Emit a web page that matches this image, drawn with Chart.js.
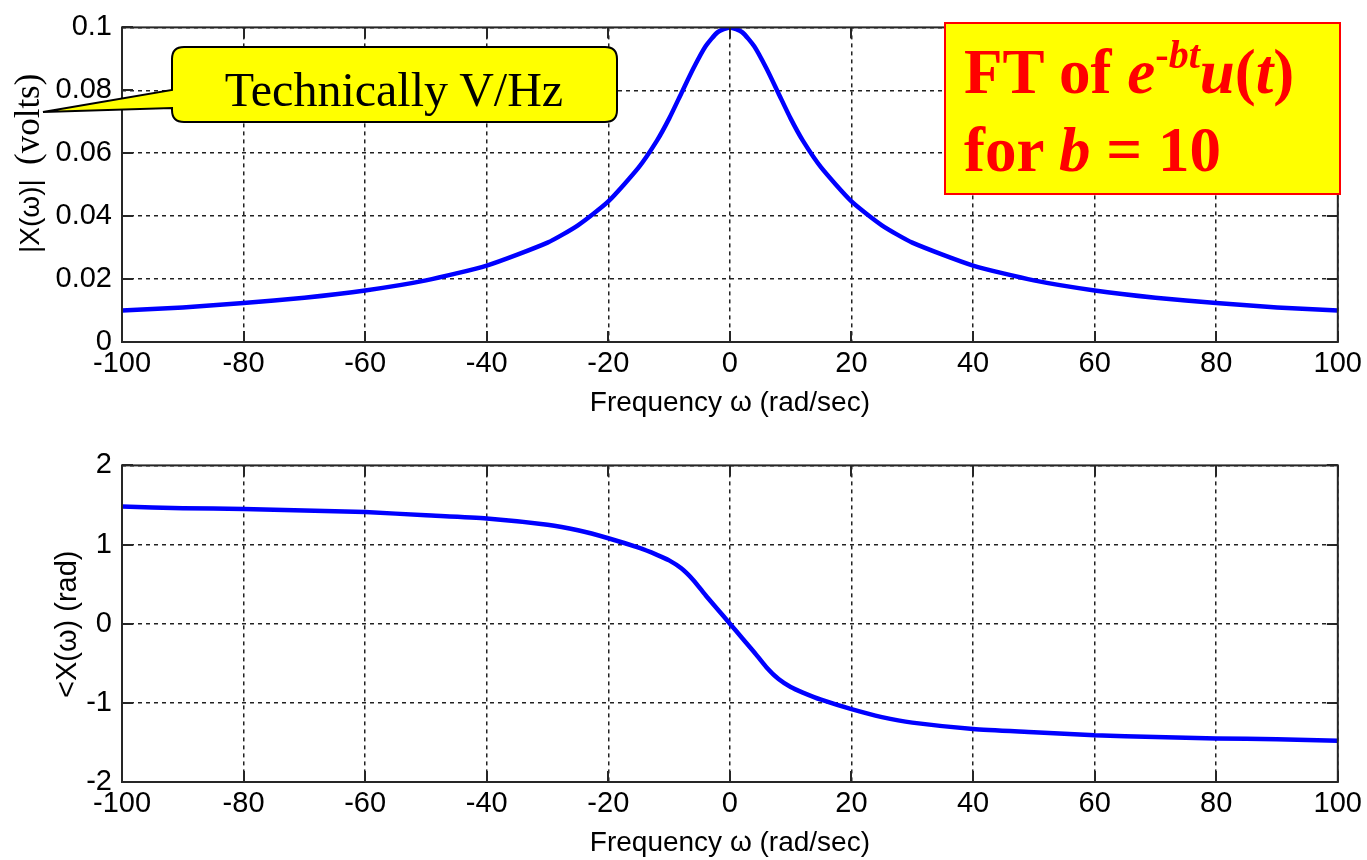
<!DOCTYPE html>
<html>
<head>
<meta charset="utf-8">
<script src="https://cdn.jsdelivr.net/npm/chart.js@4"></script>
<style>
  body { margin: 0; background: #fff; width: 1367px; height: 860px; position: relative; overflow: hidden; }
  canvas { position: absolute; left: 0; }
  #notes { position: absolute; left: 0; top: 0; pointer-events: none; }
</style>
</head>
<body>
<canvas id="magChart" width="1367" height="420" style="top:0px;width:1367px;height:420px"></canvas>
<canvas id="phaseChart" width="1367" height="422" style="top:438px;width:1367px;height:422px"></canvas>

<svg id="notes" width="1367" height="860" xmlns="http://www.w3.org/2000/svg">
  <!-- y axis labels -->
  <text transform="translate(39,253) rotate(-90)" font-family="Liberation Sans, Arial" font-size="28" fill="#000">|X(ω)|</text>
  <text transform="translate(39,165) rotate(-90)" font-family="Liberation Serif, Times New Roman" font-size="35" fill="#000">(volts)</text>
  <text transform="translate(76,698) rotate(-90)" font-family="Liberation Sans, Arial" font-size="29" fill="#000">&lt;X(ω) (rad)</text>

  <!-- callout -->
  <path d="M184 47 H605 Q617 47 617 59 V110 Q617 122 605 122 H184 Q172 122 172 110 V108 L43 112 L172 90 V59 Q172 47 184 47 Z"
        fill="#ffff00" stroke="#000" stroke-width="2"/>
  <text x="394" y="106" text-anchor="middle" font-family="Liberation Serif, Times New Roman" font-size="48" fill="#000">Technically V/Hz</text>

  <!-- red title box -->
  <rect x="945" y="23" width="395" height="171" fill="#ffff00" stroke="#ff0000" stroke-width="2"/>
  <text x="964" y="93" font-family="Liberation Serif, Times New Roman" font-weight="bold" font-size="63" fill="#ff0000">FT of <tspan font-style="italic">e</tspan><tspan dy="-25" font-size="40">-<tspan font-style="italic">bt</tspan></tspan><tspan dy="25" font-style="italic">u</tspan>(<tspan font-style="italic">t</tspan>)</text>
  <text x="964" y="171" font-family="Liberation Serif, Times New Roman" font-weight="bold" font-size="63" fill="#ff0000">for <tspan font-style="italic">b</tspan> = 10</text>
</svg>

<script>
// values
const omega = [-100, -90, -80, -70, -60, -50, -40, -30, -25, -20, -15, -12, -10, -8, -6, -4, -2, 0,
               2, 4, 6, 8, 10, 12, 15, 20, 25, 30, 40, 50, 60, 70, 80, 90, 100];
const magnitude = [0.0100, 0.0110, 0.0124, 0.0141, 0.0164, 0.0196, 0.0243, 0.0316, 0.0371, 0.0447,
                   0.0555, 0.0640, 0.0710, 0.0790, 0.0870, 0.0940, 0.0985, 0.1000,
                   0.0985, 0.0940, 0.0870, 0.0790, 0.0710, 0.0640, 0.0555, 0.0447, 0.0371,
                   0.0316, 0.0243, 0.0196, 0.0164, 0.0141, 0.0124, 0.0110, 0.0100];
const phase = [1.48, 1.46, 1.45, 1.43, 1.41, 1.37, 1.33, 1.25, 1.18, 1.08, 0.96, 0.87, 0.80, 0.70,
               0.55, 0.36, 0.18, 0.00, -0.18, -0.36, -0.55, -0.70, -0.80, -0.87, -0.96, -1.08,
               -1.18, -1.25, -1.33, -1.37, -1.41, -1.43, -1.45, -1.46, -1.48];
const xTicks = { min: -100, max: 100, step: 20 };
const magTicks = { min: 0, max: 0.1, step: 0.02 };
const phaseTicks = { min: -2, max: 2, step: 1 };

const FONT = '"Liberation Sans", Arial, sans-serif';

// MATLAB style box with inward tick marks
const boxPlugin = {
    id: 'matlabBox',
    afterDraw(chart) {
        const { ctx, chartArea: a, scales } = chart;
        const len = 11;
        ctx.save();
        ctx.strokeStyle = '#262626';
        ctx.lineWidth = 2;
        ctx.beginPath();
        scales.x.ticks.forEach(t => {
            const px = Math.round(scales.x.getPixelForValue(t.value));
            ctx.moveTo(px, a.bottom); ctx.lineTo(px, a.bottom - len);
            ctx.moveTo(px, a.top); ctx.lineTo(px, a.top + len);
        });
        scales.y.ticks.forEach(t => {
            const py = Math.round(scales.y.getPixelForValue(t.value));
            ctx.moveTo(a.left, py); ctx.lineTo(a.left + len, py);
            ctx.moveTo(a.right, py); ctx.lineTo(a.right - len, py);
        });
        ctx.stroke();
        ctx.strokeRect(a.left, a.top, a.right - a.left, a.bottom - a.top);
        ctx.restore();
    }
};

function makeChart(id, values, yRange, yFormat) {
    const points = omega.map((w, i) => ({ x: w, y: values[i] }));
    return new Chart(document.getElementById(id), {
        type: 'line',
        data: {
            datasets: [{
                data: points,
                borderColor: '#0000ff',
                borderWidth: 4.5,
                pointRadius: 0,
                tension: 0.2,
                fill: false
            }]
        },
        options: {
            responsive: false,
            animation: false,
            layout: { padding: { top: 22, right: 26, left: 0, bottom: 0 } },
            plugins: { legend: { display: false }, tooltip: { enabled: false } },
            scales: {
                x: {
                    type: 'linear',
                    min: xTicks.min,
                    max: xTicks.max,
                    afterFit: s => { s.height = 78; },
                    border: { display: false, dash: [4, 4] },
                    grid: { color: '#222', lineWidth: 1.5, drawTicks: false },
                    ticks: {
                        stepSize: xTicks.step,
                        padding: 5,
                        color: '#000',
                        font: { family: FONT, size: 29 },
                        maxRotation: 0
                    },
                    title: {
                        display: true,
                        text: 'Frequency ω (rad/sec)',
                        color: '#000',
                        font: { family: FONT, size: 28 },
                        padding: { top: 0, bottom: 0 }
                    }
                },
                y: {
                    min: yRange.min,
                    max: yRange.max,
                    afterFit: s => { s.width = 122; },
                    border: { display: false, dash: [4, 4] },
                    grid: { color: '#222', lineWidth: 1.5, drawTicks: false },
                    ticks: {
                        stepSize: yRange.step,
                        padding: 10,
                        color: '#000',
                        font: { family: FONT, size: 29 },
                        callback: yFormat
                    }
                }
            }
        },
        plugins: [boxPlugin]
    });
}

makeChart('magChart', magnitude, magTicks, v => String(+v.toFixed(2)));
makeChart('phaseChart', phase, phaseTicks, v => String(+v.toFixed(0)));
</script>
</body>
</html>
